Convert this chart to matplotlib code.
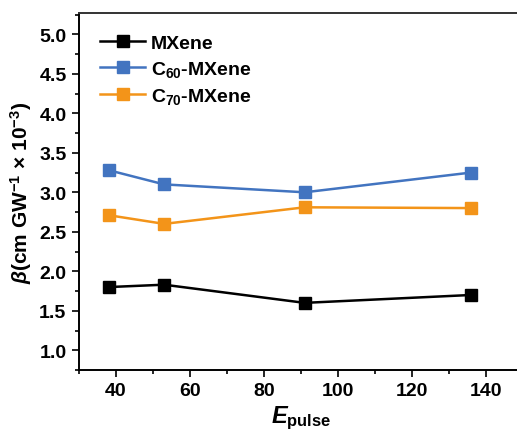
import matplotlib
matplotlib.use("Agg")
import matplotlib.pyplot as plt
from matplotlib.ticker import MultipleLocator

plt.rcParams["font.family"] = ["Liberation Sans", "DejaVu Sans"]
plt.rcParams["font.weight"] = "bold"
plt.rcParams["axes.labelweight"] = "bold"
plt.rcParams["mathtext.fontset"] = "custom"
plt.rcParams["mathtext.rm"] = "Liberation Sans:bold"
plt.rcParams["mathtext.bf"] = "Liberation Sans:bold"
plt.rcParams["mathtext.it"] = "Liberation Sans:italic:bold"
plt.rcParams["mathtext.default"] = "rm"

# energy per pulse
e_pulse = [38, 53, 91, 136]

beta_mxene = [1.80, 1.83, 1.60, 1.70]
beta_c60 = [3.28, 3.10, 3.00, 3.25]
beta_c70 = [2.71, 2.60, 2.81, 2.80]

series_labels = ["MXene", "C$_{60}$-MXene", "C$_{70}$-MXene"]
series_colors = ["#000000", "#4274c0", "#f39419"]

fig = plt.figure(figsize=(5.17, 4.35), dpi=100)
ax = fig.add_axes([79 / 517, 64 / 435, 444 / 517, 357 / 435])

for ys, label, color in zip([beta_mxene, beta_c60, beta_c70], series_labels, series_colors):
    ax.plot(e_pulse, ys, color=color, marker="s", markersize=8, linewidth=1.8,
            markeredgecolor=color, label=label)

ax.set_xlim(30, 150)
ax.set_ylim(0.75, 5.27)
ax.xaxis.set_major_locator(MultipleLocator(20))
ax.xaxis.set_minor_locator(MultipleLocator(10))
ax.yaxis.set_major_locator(MultipleLocator(0.5))
ax.yaxis.set_minor_locator(MultipleLocator(0.25))
ax.tick_params(which="both", direction="out", labelsize=14, width=1.2)
ax.tick_params(which="major", length=5, pad=4)
ax.tick_params(which="minor", length=3)
for side in ["left", "bottom", "top"]:
    ax.spines[side].set_linewidth(1.4)
ax.spines["right"].set_visible(False)
ax.spines["top"].set_color("#333333")

ax.set_xlabel(r"$\mathit{E}_{\mathrm{pulse}}$", fontsize=17, labelpad=3)
ax.set_ylabel(r"$\mathit{\beta}$(cm GW$^{-1}$ $\times$ 10$^{-3}$)", fontsize=15, labelpad=4)

ax.legend(loc="upper left", frameon=False, fontsize=14, handlelength=2.3,
          handletextpad=0.3, labelspacing=0.35, borderaxespad=0.6,
          borderpad=0.5)

fig.savefig("out.png", dpi=100)
